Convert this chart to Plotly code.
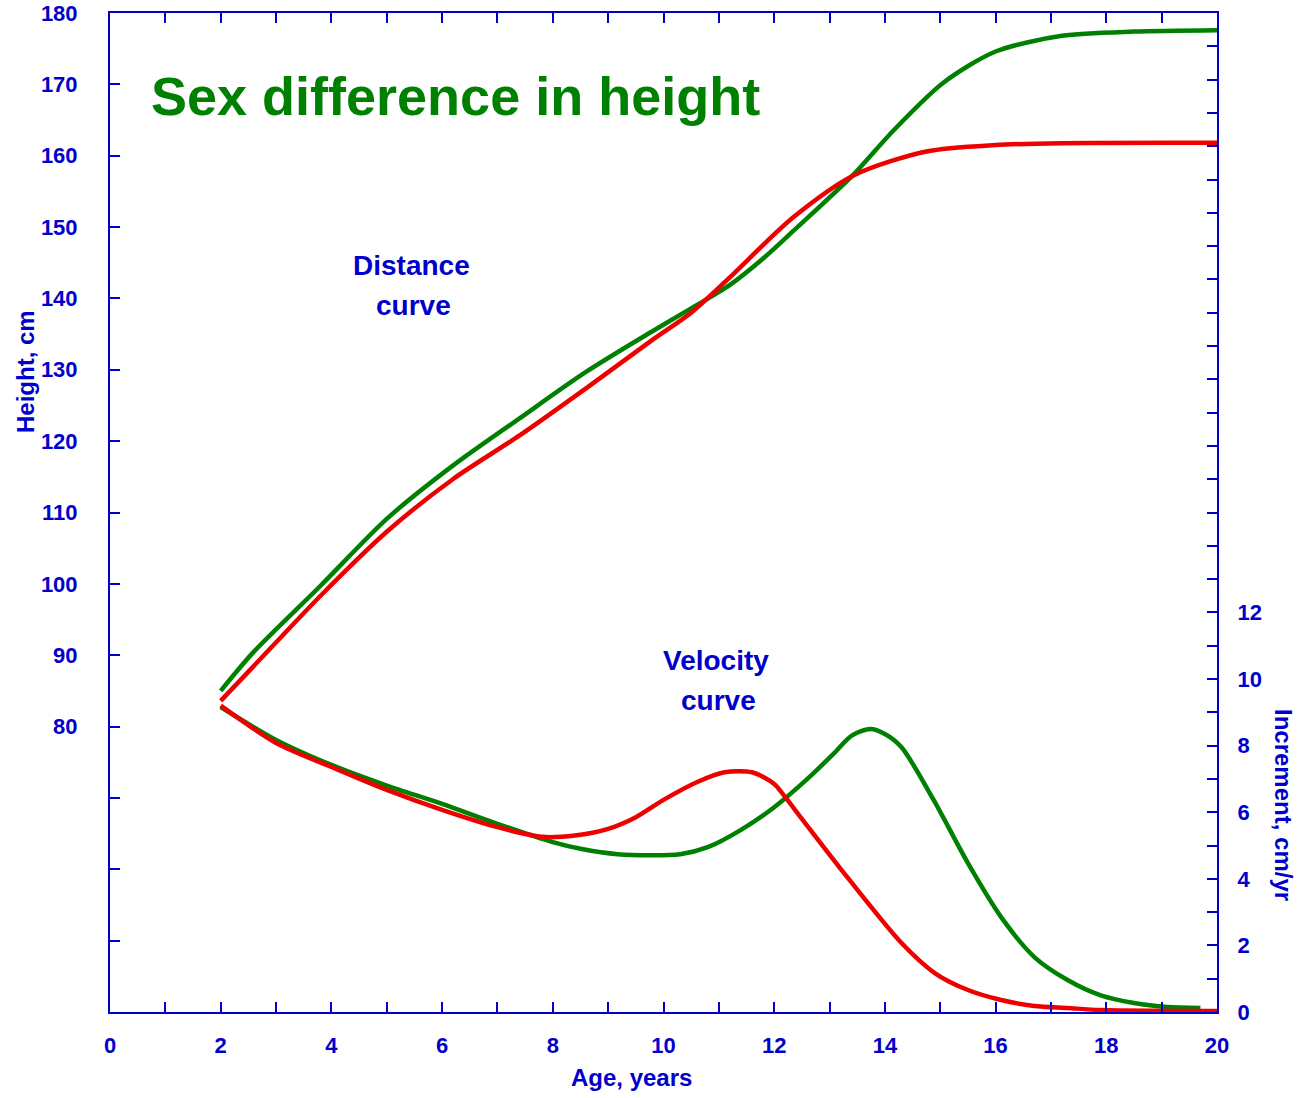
import plotly.graph_objects as go

# -----------------------------
# Data
# -----------------------------
# distance curves (height, cm) on the left axis
boys_dist_age = [2, 2.6, 3.8, 5.0, 6.2, 7.4, 8.6, 9.8, 10.5, 11.2, 11.8, 12.35, 13.45, 14.15, 15.05, 16.0, 17.2, 18.5, 20]
boys_dist_cm = [85.0, 90.5, 99.7, 109.1, 116.6, 123.2, 129.7, 135.4, 138.6, 141.9, 145.6, 149.5, 157.5, 163.5, 170.2, 174.6, 176.8, 177.4, 177.6]

girls_dist_age = [2, 2.6, 3.8, 5.0, 6.2, 7.4, 8.6, 9.8, 10.5, 11.15, 12.35, 13.45, 14.75, 16.0, 17.2, 20]
girls_dist_cm = [83.6, 88.5, 98.3, 107.3, 114.7, 120.8, 127.4, 134.2, 138.0, 142.6, 151.4, 157.3, 160.6, 161.5, 161.75, 161.8]

# velocity curves (increment, cm/yr) on the right axis
boys_vel_age = [2, 3, 4, 5, 6, 7, 8, 8.5, 9.17, 10.3, 10.8, 11.4, 12.0, 12.6, 13.07, 13.4, 13.74, 14.0, 14.3, 14.88,
                15.5, 16.1, 16.7, 17.3, 17.9, 18.5, 19.1, 19.7]
boys_vel = [9.16, 8.17, 7.42, 6.8, 6.25, 5.65, 5.1, 4.9, 4.74, 4.74, 4.95, 5.47, 6.15, 7.0, 7.75, 8.3, 8.5, 8.35, 7.95, 6.37,
            4.47, 2.85, 1.65, 0.96, 0.5, 0.27, 0.15, 0.12]

girls_vel_age = [2, 3, 4, 5, 6, 7, 7.8, 8.4, 9.0, 9.5, 10.0, 10.6, 11.1, 11.6, 12.0, 12.2, 12.5, 13.2, 14.3, 14.9,
                 15.5, 16.1, 16.7, 17.3, 17.9, 20]
girls_vel = [9.2, 8.08, 7.36, 6.67, 6.07, 5.55, 5.26, 5.3, 5.5, 5.85, 6.37, 6.9, 7.2, 7.2, 6.85, 6.45, 5.8, 4.3, 2.07, 1.17,
             0.66, 0.36, 0.18, 0.12, 0.06, 0.03]

# ticks
x_ticks = list(range(0, 21))
x_tick_labels = [str(v) if v % 2 == 0 else "" for v in x_ticks]
y_ticks = list(range(40, 181, 10))
y_tick_labels = [str(v) if v >= 80 else "" for v in y_ticks]
y2_ticks = list(range(0, 31))
y2_tick_labels = [str(v) if (v % 2 == 0 and v <= 12) else "" for v in y2_ticks]

BLUE = "#0000CC"
GREEN = "#008000"
RED = "#EE0000"
FONT = "Liberation Sans, Arial, sans-serif"

# the page body margin is removed below, so the figure fills the whole window
FIG_W, FIG_H = 1303, 1098
M_L, M_T = 110, 13
PLOT_W, PLOT_H = 1107, 999
M_R, M_B = FIG_W - M_L - PLOT_W, FIG_H - M_T - PLOT_H

fig = go.Figure()

line_style = dict(width=4.5, shape="spline", smoothing=0.8)

fig.add_trace(go.Scatter(x=boys_dist_age, y=boys_dist_cm, mode="lines",
                         line=dict(color=GREEN, **line_style), name="Boys distance"))
fig.add_trace(go.Scatter(x=girls_dist_age, y=girls_dist_cm, mode="lines",
                         line=dict(color=RED, **line_style), name="Girls distance"))
fig.add_trace(go.Scatter(x=boys_vel_age, y=boys_vel, mode="lines", yaxis="y2",
                         line=dict(color=GREEN, **line_style), name="Boys velocity"))
fig.add_trace(go.Scatter(x=girls_vel_age, y=girls_vel, mode="lines", yaxis="y2",
                         line=dict(color=RED, **line_style), name="Girls velocity"))

tick_font = dict(family=FONT, size=22, color=BLUE, weight="bold")
axis_common = dict(
    showgrid=False, zeroline=False, showline=True, linecolor=BLUE, linewidth=2,
    ticks="inside", ticklen=10, tickwidth=2, tickcolor=BLUE, tickfont=tick_font,
    automargin=False, ticklabeloverflow="allow",
)

fig.update_layout(
    width=FIG_W,
    height=FIG_H,
    margin=dict(l=M_L, r=M_R, t=M_T, b=M_B),
    plot_bgcolor="white",
    paper_bgcolor="white",
    showlegend=False,
    xaxis=dict(range=[0, 20], tickmode="array", tickvals=x_ticks, ticktext=x_tick_labels,
               mirror="ticks", ticklabelstandoff=13, **axis_common),
    yaxis=dict(range=[40, 180], tickmode="array", tickvals=y_ticks, ticktext=y_tick_labels,
               ticklabelstandoff=26, **axis_common),
    yaxis2=dict(range=[0, 30], tickmode="array", tickvals=y2_ticks, ticktext=y2_tick_labels,
                overlaying="y", side="right", ticklabelstandoff=14, **axis_common),
)


def label(text, x, y, size, color=BLUE, angle=0, ref="data"):
    xref, yref = ("x", "y") if ref == "data" else ("paper", "paper")
    fig.add_annotation(x=x, y=y, xref=xref, yref=yref, text=text, showarrow=False,
                       textangle=angle, xanchor="center", yanchor="middle",
                       font=dict(family=FONT, size=size, color=color, weight="bold"))


label("Sex difference in height", 6.25, 168.3, 54, color=GREEN)
label("Distance", 5.44, 144.6, 28)
label("curve", 5.49, 139.0, 28)
label("Velocity", 10.95, 89.3, 28)
label("curve", 11.0, 83.7, 28)

# axis titles sit off-centre in the original, placed in paper space
label("Height, cm", (25 - 110) / PLOT_W, (1012 - 372) / PLOT_H, 24, angle=-90, ref="paper")
label("Age, years", (631 - 110) / PLOT_W, (1012 - 1077) / PLOT_H, 24, ref="paper")
label("Increment, cm/yr", (1284 - 110) / PLOT_W, (1012 - 805) / PLOT_H, 24, angle=90, ref="paper")

fig.write_html("out.html", config={"displayModeBar": False},
               post_script="document.body.style.margin = '0';")
